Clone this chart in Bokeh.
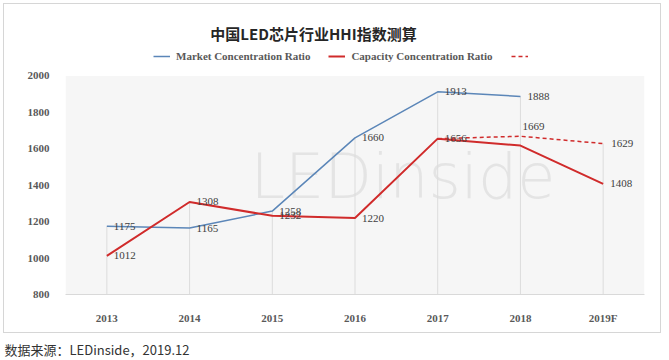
from bokeh.plotting import figure
from bokeh.layouts import column
from bokeh.models import Range1d, FixedTicker, Label, Legend, LegendItem, BoxAnnotation, Title
from bokeh.core.properties import value
from bokeh.embed import file_html
from bokeh.resources import INLINE

# ---------------- data ----------------
title_text = "中国LED芯片行业HHI指数测算"
source_text = "数据来源：LEDinside，2019.12"
years = ["2013", "2014", "2015", "2016", "2017", "2018", "2019F"]
market_years = ["2013", "2014", "2015", "2016", "2017", "2018"]
market = [1175, 1165, 1258, 1660, 1913, 1888]
capacity = [1012, 1308, 1232, 1220, 1656, 1618, 1408]
capacity_labelled = [True, True, True, True, True, False, True]
forecast_years = ["2017", "2018", "2019F"]
forecast = [1656, 1669, 1629]
forecast_labelled = [False, True, True]
y_ticks = [800, 1000, 1200, 1400, 1600, 1800, 2000]
series_names = ["Market Concentration Ratio", "Capacity Concentration Ratio", " "]

# ---------------- styles / layout ----------------
SERIF = "Liberation Serif"
CJK = "Noto Sans CJK SC"
BLUE = "#5b86b8"
RED = "#d02b2b"
W, H = 658, 330            # boxed chart
FL, FR, FB = 61, 18, 40    # frame borders (top of frame = top of box)
frame_h = H - FB - 2
# extend value axis upward so the frame also holds title and legend
y_top = y_ticks[-1] + (y_ticks[-1] - y_ticks[0]) * (frame_h - 217) / 217

p = figure(x_range=years, y_range=Range1d(y_ticks[0], y_top),
           width=W, height=H, output_backend="svg", toolbar_location=None,
           min_border_left=FL, min_border_right=FR,
           min_border_top=0, min_border_bottom=FB)
p.margin = (3, 0, 0, 3)
p.styles = {"border": "1px solid #d6d6d6", "box-sizing": "border-box"}
p.background_fill_color = "white"
p.border_fill_color = "white"
p.outline_line_color = None
p.xgrid.visible = False
p.ygrid.visible = False

# light plot-area shading
p.add_layout(BoxAnnotation(bottom=y_ticks[0], top=y_ticks[-1], fill_color="#f6f6f6",
                           fill_alpha=1, line_color=None, level="underlay"))

# axes
p.yaxis.ticker = FixedTicker(ticks=y_ticks)
p.yaxis.axis_line_color = None
p.yaxis.major_tick_line_color = None
p.yaxis.minor_tick_line_color = None
p.yaxis.major_label_standoff = 10
p.yaxis.major_label_text_font = SERIF
p.yaxis.major_label_text_font_style = "bold"
p.yaxis.major_label_text_font_size = "11px"
p.yaxis.major_label_text_color = "#595959"

p.xaxis.axis_line_color = "#d9d9d9"
p.xaxis.major_tick_line_color = None
p.xaxis.minor_tick_line_color = None
p.xaxis.major_label_standoff = 11
p.xaxis.major_label_text_font = SERIF
p.xaxis.major_label_text_font_style = "bold"
p.xaxis.major_label_text_font_size = "11px"
p.xaxis.major_label_text_color = "#595959"

# watermark
p.add_layout(Label(x=185, y=118, x_units="screen", y_units="screen",
                   text="LEDinside",
                   text_font="DejaVu Sans ExtraLight, DejaVu Sans Light, DejaVu Sans",
                   text_font_size="62px",
                   text_color="#e4e4e4", text_baseline="alphabetic", level="underlay"))

# drop lines from highest value of each category
drop_top = []
for i, yr in enumerate(years):
    vals = [capacity[i]]
    if yr in market_years:
        vals.append(market[market_years.index(yr)])
    if yr in forecast_years:
        vals.append(forecast[forecast_years.index(yr)])
    drop_top.append(max(vals))
p.segment(x0=years, y0=[y_ticks[0]] * len(years), x1=years, y1=drop_top,
          line_color="#dcdcdc", line_width=1)

# series
r_m = p.line(market_years, market, line_color=BLUE, line_width=1.5)
r_c = p.line(years, capacity, line_color=RED, line_width=2)
r_f = p.line(forecast_years, forecast, line_color=RED, line_width=1.5, line_dash="4 3")

lab_kw = dict(text_baseline="middle", text_align="left", text_font=value(SERIF),
              text_font_size="11px", text_color="#404040")
p.text(x=market_years, y=market, text=[str(v) for v in market], x_offset=7, **lab_kw)
cx = [y for y, keep in zip(years, capacity_labelled) if keep]
cy = [v for v, keep in zip(capacity, capacity_labelled) if keep]
p.text(x=cx, y=cy, text=[str(v) for v in cy], x_offset=7, **lab_kw)
fx = [y for y, keep in zip(forecast_years, forecast_labelled) if keep]
fy = [v for v, keep in zip(forecast, forecast_labelled) if keep]
p.text(x=fx[:1], y=fy[:1], text=[str(v) for v in fy[:1]], x_offset=2, y_offset=-10, **lab_kw)
p.text(x=fx[1:], y=fy[1:], text=[str(v) for v in fy[1:]], x_offset=8, **lab_kw)

# legend
legend = Legend(items=[LegendItem(label=series_names[0], renderers=[r_m]),
                       LegendItem(label=series_names[1], renderers=[r_c]),
                       LegendItem(label=series_names[2], renderers=[r_f])],
                orientation="horizontal", location=(88, 232),
                border_line_color=None, background_fill_alpha=0,
                padding=0, margin=0, spacing=18, glyph_width=17, glyph_height=12,
                label_standoff=6, label_height=12,
                label_text_font=SERIF, label_text_font_style="bold",
                label_text_font_size="11px", label_text_color="#595959")
p.add_layout(legend)

# title
p.add_layout(Label(x=248, y=261, x_units="screen", y_units="screen",
                   text=title_text, text_font=CJK, text_font_style="bold",
                   text_font_size="15px", text_color="#262626",
                   text_align="center", text_baseline="middle"))

# source line below the box
s = figure(width=W, height=18, output_backend="svg", toolbar_location=None,
           x_range=Range1d(0, 1), y_range=Range1d(0, 1),
           x_axis_location=None, y_axis_location=None,
           min_border_left=FL, min_border_right=FR, min_border_top=0, min_border_bottom=0)
s.margin = (7, 0, 0, 4)
s.xgrid.visible = False
s.ygrid.visible = False
s.outline_line_color = None
s.add_layout(Title(text=source_text, align="left", offset=-FL, standoff=0,
                   text_font=CJK, text_font_size="13px", text_font_style="normal",
                   text_color="#333333"), "above")

layout = column(p, s)
open("out.html", "w").write(file_html(layout, INLINE))
